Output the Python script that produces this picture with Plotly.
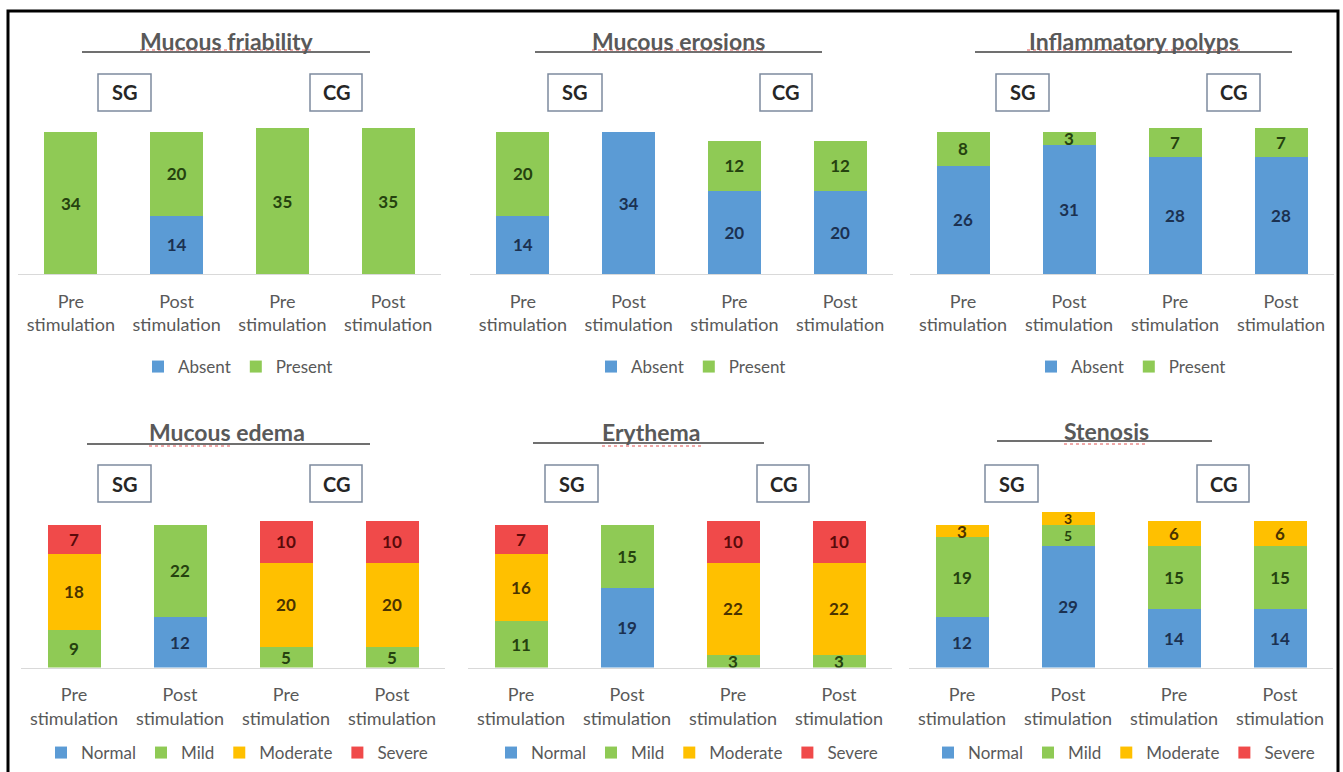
import plotly.graph_objects as go

W, H = 1343, 772

# ---------------- data ----------------
categories = ["Pre stimulation", "Post stimulation", "Pre stimulation", "Post stimulation"]
groups = ["SG", "SG", "CG", "CG"]

binary_series = ["Absent", "Present"]
grade_series = ["Normal", "Mild", "Moderate", "Severe"]

friability_absent = [0, 14, 0, 0]
friability_present = [34, 20, 35, 35]

erosions_absent = [14, 34, 20, 20]
erosions_present = [20, 0, 12, 12]

polyps_absent = [26, 31, 28, 28]
polyps_present = [8, 3, 7, 7]

edema_normal = [0, 12, 0, 0]
edema_mild = [9, 22, 5, 5]
edema_moderate = [18, 0, 20, 20]
edema_severe = [7, 0, 10, 10]

erythema_normal = [0, 19, 0, 0]
erythema_mild = [11, 15, 3, 3]
erythema_moderate = [16, 0, 22, 22]
erythema_severe = [7, 0, 10, 10]

stenosis_normal = [12, 29, 14, 14]
stenosis_mild = [19, 5, 15, 15]
stenosis_moderate = [3, 3, 6, 6]
stenosis_severe = [0, 0, 0, 0]

panel_titles = ["Mucous friability", "Mucous erosions", "Inflammatory polyps",
                "Mucous edema", "Erythema", "Stenosis"]

panel_data = [
    (binary_series, [friability_absent, friability_present]),
    (binary_series, [erosions_absent, erosions_present]),
    (binary_series, [polyps_absent, polyps_present]),
    (grade_series, [edema_normal, edema_mild, edema_moderate, edema_severe]),
    (grade_series, [erythema_normal, erythema_mild, erythema_moderate, erythema_severe]),
    (grade_series, [stenosis_normal, stenosis_mild, stenosis_moderate, stenosis_severe]),
]

# ---------------- style ----------------
FONT = "Lato"
fill = {"Absent": "#5b9bd5", "Present": "#8fca55", "Normal": "#5b9bd5",
        "Mild": "#8fca55", "Moderate": "#ffc000", "Severe": "#f04a4a"}
label_col = {"Absent": "#1b3151", "Present": "#25420f", "Normal": "#1b3151",
             "Mild": "#25420f", "Moderate": "#4a3300", "Severe": "#5a0a0a"}
GRAY = "#595959"
LABEL_SIZE = 17
SMALL_LABEL_SIZE = 14


def fx(px):
    return px / W


def fy(py):
    return 1 - py / H


def label_sizes(series_vals, k):
    """Smaller label where two adjacent thin segments would collide."""
    sizes = []
    for j in range(len(series_vals[k])):
        v = series_vals[k][j]
        neighbours = [series_vals[m][j] for m in (k - 1, k + 1) if 0 <= m < len(series_vals)]
        tight = v and v <= 5 and any(0 < nv <= 5 for nv in neighbours)
        sizes.append(SMALL_LABEL_SIZE if tight else LABEL_SIZE)
    return sizes


# panel geometry (pixels)
panels = [
    dict(xd=(18, 441), base=274, scale=4.17, tx=227, ty=41, ul=(82, 370, 52), sq=(140, 313, 50),
         sg=(98, 151), cg=(310, 362), by=(74, 111), lx=238, ly=367),
    dict(xd=(470, 893), base=274, scale=4.17, tx=678, ty=41, ul=(535, 822, 52), sq=(592, 765, 50),
         sg=(548, 602), cg=(760, 812), by=(74, 111), lx=691, ly=367),
    dict(xd=(910, 1334), base=274, scale=4.17, tx=1134, ty=41, ul=(975, 1292, 52), sq=(1027, 1242, 50),
         sg=(996, 1049), cg=(1207, 1260), by=(74, 111), lx=1131, ly=367),
    dict(xd=(21, 445), base=667.5, scale=4.2, tx=227, ty=432, ul=(87, 370, 444), sq=(149, 233, 446),
         sg=(98, 151), cg=(310, 362), by=(465, 502), lx=237, ly=753),
    dict(xd=(468, 892), base=667.5, scale=4.2, tx=651, ty=432, ul=(533, 764, 443), sq=(602, 701, 446),
         sg=(545, 598), cg=(757, 809), by=(465, 502), lx=687, ly=753),
    dict(xd=(909, 1333), base=667.5, scale=4.2, tx=1106, ty=431, ul=(997, 1212, 441), sq=(1064, 1148, 444),
         sg=(985, 1038), cg=(1197, 1249), by=(465, 502), lx=1124, ly=753),
]

YMAX = 40
xpos = list(range(len(categories)))
ticktext = [c.replace(" ", "<br>") for c in categories]

fig = go.Figure()
shapes = []
annotations = []
layout_axes = {}
layout_legends = {}

for i, (p, title, (series, values)) in enumerate(zip(panels, panel_titles, panel_data)):
    n = i + 1
    xa = "x" if n == 1 else f"x{n}"
    ya = "y" if n == 1 else f"y{n}"
    lg = "legend" if n == 1 else f"legend{n}"
    for k, (name, vals) in enumerate(zip(series, values)):
        fig.add_trace(go.Bar(
            x=xpos, y=vals, name=name, xaxis=xa, yaxis=ya, legend=lg,
            marker=dict(color=fill[name], line=dict(width=0)),
            text=[str(v) if v else "" for v in vals],
            textposition="inside", insidetextanchor="middle", textangle=0,
            constraintext="none",
            textfont=dict(family=FONT, size=label_sizes(values, k),
                          color=label_col[name], weight="bold"),
            hoverinfo="skip",
        ))
    top = p["base"] - YMAX * p["scale"]
    layout_axes[("xaxis" if n == 1 else f"xaxis{n}")] = dict(
        domain=[fx(p["xd"][0]), fx(p["xd"][1])], anchor=ya, range=[-0.5, 3.5],
        tickvals=xpos, ticktext=ticktext, showgrid=False, zeroline=False,
        showline=True, linecolor="#d9d9d9", linewidth=1, ticks="",
        ticklabelstandoff=11,
        tickfont=dict(family=FONT, size=18, color=GRAY), fixedrange=True,
    )
    layout_axes[("yaxis" if n == 1 else f"yaxis{n}")] = dict(
        domain=[fy(p["base"]), fy(top)], anchor=xa, range=[0, YMAX],
        visible=False, showgrid=False, zeroline=False, fixedrange=True,
    )
    layout_legends[lg] = dict(
        orientation="h", x=fx(p["lx"]), y=fy(p["ly"]), xanchor="center", yanchor="middle",
        font=dict(family=FONT, size=17, color=GRAY), bgcolor="rgba(0,0,0,0)",
        traceorder="normal", itemclick=False, itemdoubleclick=False,
    )
    # title
    annotations.append(dict(
        text=f"<b>{title}</b>", x=fx(p["tx"]), y=fy(p["ty"]), xref="paper", yref="paper",
        xanchor="center", yanchor="middle", showarrow=False,
        font=dict(family=FONT, size=23, color=GRAY),
    ))
    x0, x1, uy = p["ul"]
    shapes.append(dict(type="line", xref="paper", yref="paper", x0=fx(x0), x1=fx(x1),
                       y0=fy(uy), y1=fy(uy), line=dict(color="#404040", width=1.3)))
    s0, s1, sy = p["sq"]
    shapes.append(dict(type="line", xref="paper", yref="paper", x0=fx(s0), x1=fx(s1),
                       y0=fy(sy), y1=fy(sy), line=dict(color="#e05050", width=1, dash="dot")))
    # group boxes
    for lab, (bx0, bx1) in (("SG", p["sg"]), ("CG", p["cg"])):
        by0, by1 = p["by"]
        shapes.append(dict(type="rect", xref="paper", yref="paper", x0=fx(bx0), x1=fx(bx1),
                           y0=fy(by1), y1=fy(by0), line=dict(color="#7d8b9e", width=1.5),
                           fillcolor="white"))
        annotations.append(dict(
            text=f"<b>{lab}</b>", x=fx((bx0 + bx1) / 2), y=fy((by0 + by1) / 2),
            xref="paper", yref="paper", xanchor="center", yanchor="middle", showarrow=False,
            font=dict(family=FONT, size=20, color="#262626"),
        ))

# outer frame
shapes.append(dict(type="rect", xref="paper", yref="paper", x0=fx(8), x1=fx(1338),
                   y0=fy(776), y1=fy(11), line=dict(color="black", width=3),
                   fillcolor="rgba(0,0,0,0)"))

fig.update_layout(
    width=W, height=H, autosize=False,
    margin=dict(l=0, r=0, t=0, b=0),
    paper_bgcolor="white", plot_bgcolor="white",
    barmode="stack", bargap=0.5,
    shapes=shapes, annotations=annotations,
    font=dict(family=FONT, color=GRAY),
    **layout_axes, **layout_legends,
)

fig.write_html(
    "out.html",
    config={"displayModeBar": False},
    post_script="document.body.style.margin='0px';document.body.style.overflow='hidden';",
)
